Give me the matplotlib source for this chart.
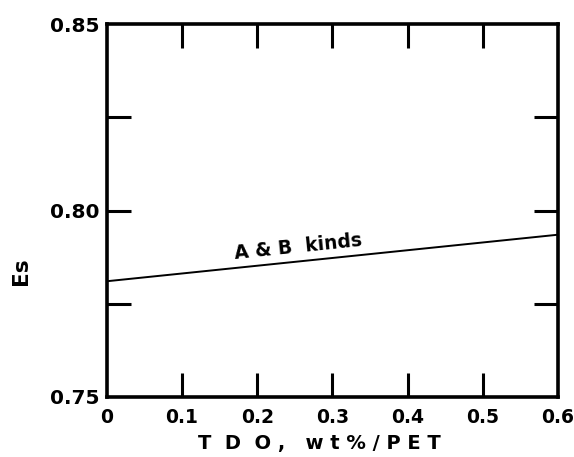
import matplotlib
matplotlib.use("Agg")
import matplotlib.pyplot as plt
import numpy as np

# Data
tdo = [0.0, 0.6]
es = [0.781, 0.7935]
x_ticks = [0, 0.1, 0.2, 0.3, 0.4, 0.5, 0.6]
x_ticklabels = ["0", "0.1", "0.2", "0.3", "0.4", "0.5", "0.6"]
y_major = [0.75, 0.80, 0.85]
y_ticklabels = ["0.75", "0.80", "0.85"]
y_minor = [0.775, 0.825]
line_label = "A & B  kinds"

plt.rcParams['font.family'] = ['DejaVu Sans']

fig = plt.figure(figsize=(5.74, 4.57), dpi=100)
ax = fig.add_axes([106.7/574, 1 - 396.7/457, (558 - 106.7)/574, (396.7 - 24.3)/457])

ax.plot(tdo, es, color='black', lw=1.4)
ax.set_xlim(0, 0.6)
ax.set_ylim(0.75, 0.85)

ax.set_xticks(x_ticks)
ax.set_xticklabels(x_ticklabels, fontsize=13.5, fontweight='bold')
ax.set_yticks(y_major)
ax.set_yticklabels(y_ticklabels, fontsize=14.5, fontweight='bold')
ax.set_yticks(y_minor, minor=True)

ax.tick_params(axis='both', which='both', direction='in', top=True, right=True,
               length=17, width=2.2)
ax.tick_params(axis='y', which='major', pad=5)
ax.tick_params(axis='x', which='major', pad=8)
for sp in ax.spines.values():
    sp.set_linewidth(2.6)

# Hide the end ticks at the corners
ax.xaxis.get_major_ticks()[0].tick2line.set_visible(False)
ax.xaxis.get_major_ticks()[-1].tick2line.set_visible(False)
ax.xaxis.get_major_ticks()[0].tick1line.set_visible(False)
ax.xaxis.get_major_ticks()[-1].tick1line.set_visible(False)
for t in ax.yaxis.get_major_ticks():
    if t.get_loc() in (0.75, 0.85):
        t.tick1line.set_visible(False)
        t.tick2line.set_visible(False)

ax.text(0.2555, 0.7877, line_label, fontsize=13.5, fontweight='bold',
        rotation=5.9, rotation_mode='anchor', ha='center', va='bottom',
        transform=ax.transData)

fig.text(319/574, 1 - 443/457, "T  D  O ,   w t % / P E T", fontsize=14,
         fontweight='bold', ha='center', va='center')
fig.text(21/574, 1 - 271/457, "Es", fontsize=15.5, fontweight='bold',
         rotation=90, ha='center', va='center')

fig.savefig("out.png", dpi=100)
